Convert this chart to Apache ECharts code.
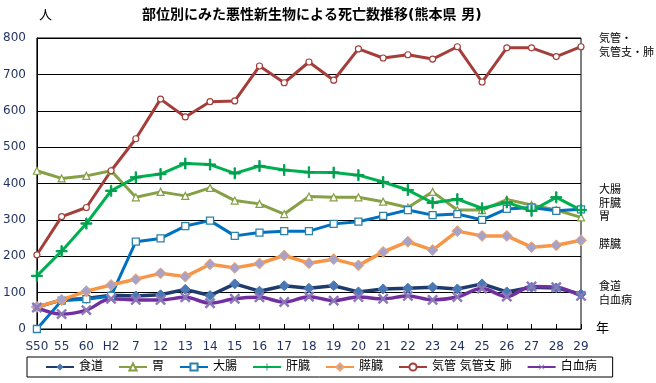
<!DOCTYPE html>
<html><head><meta charset="utf-8">
<script src="https://cdn.jsdelivr.net/npm/echarts@6/dist/echarts.min.js"></script>
<style>html,body{margin:0;padding:0;background:#fff}#c{width:656px;height:383px}</style>
</head><body><div id="c"></div>
<script>
const categories = ['S50','55','60','H2','7','12','13','14','15','16','17','18','19','20','21','22','23','24','25','26','27','28','29'];
const yTicks = [0,100,200,300,400,500,600,700,800];
const esophagus = [60,80,84,93,91,94,109,92,124,104,119,112,119,102,110,112,115,110,124,102,115,113,96];
const stomach = [435,414,421,435,362,377,366,388,353,344,316,364,362,362,350,334,377,327,327,356,341,327,307];
const colon = [0,78,82,91,240,249,283,298,256,265,269,269,289,295,311,327,313,316,300,330,334,325,329];
const liver = [146,214,290,380,417,426,455,452,428,448,437,431,430,423,404,382,347,357,332,348,325,362,327];
const pancreas = [61,80,104,121,137,153,144,178,168,180,202,181,192,175,212,240,217,269,256,256,225,230,244];
const lung = [204,309,334,435,523,632,583,625,627,723,677,734,684,770,745,754,742,776,679,773,773,749,776];
const leukemia = [59,41,52,83,80,80,87,71,83,87,74,89,78,88,83,91,80,88,111,89,117,115,91];
const seriesNames = ['食道','胃','大腸','肝臓','膵臓','気管 気管支 肺','白血病'];

const FONT = "'DejaVu Sans','Noto Sans CJK JP',sans-serif";
const plusPath = 'path://M4.4,0H5.6V4.4H10V5.6H5.6V10H4.4V5.6H0V4.4H4.4Z';

const chart = echarts.init(document.getElementById('c'));
const mk = (name, data, o) => Object.assign({
  name, type: 'line', data, lineStyle: {width: 3}, emphasis: {disabled: true}
}, o);

chart.setOption({
  animation: false,
  textStyle: {fontFamily: FONT},
  title: {
    text: '部位別にみた悪性新生物による死亡数推移(熊本県 男)',
    left: 137, top: 3,
    textStyle: {fontSize: 14, fontWeight: 'bold', color: '#000', fontFamily: FONT}
  },
  grid: {left: 36, right: 75, top: 38, bottom: 54, show: true, borderColor: '#000', borderWidth: 1},
  xAxis: {
    type: 'category', data: categories, boundaryGap: false,
    axisLine: {lineStyle: {color: '#000', width: 1}},
    axisTick: {inside: true, length: 5, lineStyle: {color: '#000'}},
    axisLabel: {color: '#1F2F5F', fontSize: 12, margin: 12, interval: 0, fontFamily: FONT},
    splitLine: {show: false}
  },
  yAxis: {
    type: 'value', min: yTicks[0], max: yTicks[yTicks.length-1], interval: 100,
    axisLine: {show: true, lineStyle: {color: '#000'}},
    axisTick: {show: false},
    axisLabel: {color: '#1F2F5F', fontSize: 12, margin: 11, fontFamily: FONT},
    splitLine: {lineStyle: {color: '#000', width: 1}}
  },
  legend: {
    data: seriesNames,
    left: 27, top: 357,
    padding: [4, 16, 4, 18],
    itemGap: 15, itemWidth: 28, itemHeight: 9,
    borderColor: '#000', borderWidth: 1,
    textStyle: {fontSize: 12, color: '#000', fontFamily: FONT}
  },
  graphic: [
    {type: 'text', left: 39, top: 9, style: {text: '人', font: '13px ' + FONT, fill: '#000'}},
    {type: 'text', left: 596, top: 322, style: {text: '年', font: '13px ' + FONT, fill: '#000'}},
    {type: 'text', left: 599, top: 34, style: {text: '気管・', font: '11px ' + FONT, fill: '#000'}},
    {type: 'text', left: 599, top: 48, style: {text: '気管支・肺', font: '11px ' + FONT, fill: '#000'}},
    {type: 'text', left: 599, top: 185, style: {text: '大腸', font: '11px ' + FONT, fill: '#000'}},
    {type: 'text', left: 599, top: 199, style: {text: '肝臓', font: '11px ' + FONT, fill: '#000'}},
    {type: 'text', left: 599, top: 212, style: {text: '胃', font: '11px ' + FONT, fill: '#000'}},
    {type: 'text', left: 599, top: 240, style: {text: '膵臓', font: '11px ' + FONT, fill: '#000'}},
    {type: 'text', left: 599, top: 282, style: {text: '食道', font: '11px ' + FONT, fill: '#000'}},
    {type: 'text', left: 599, top: 296, style: {text: '白血病', font: '11px ' + FONT, fill: '#000'}}
  ],
  series: [
    mk(seriesNames[0], esophagus, {
      symbol: 'diamond', symbolSize: 10,
      lineStyle: {width: 3.5, color: '#1F3B6B'},
      itemStyle: {color: '#4A78B5', borderColor: '#4A78B5'}
    }),
    mk(seriesNames[1], stomach, {
      symbol: 'triangle', symbolSize: 7,
      lineStyle: {width: 3, color: '#86A046'},
      itemStyle: {color: '#fff', borderColor: '#86A046', borderWidth: 1.2}
    }),
    mk(seriesNames[2], colon, {
      symbol: 'rect', symbolSize: 7,
      lineStyle: {width: 3, color: '#0070C0'},
      itemStyle: {color: '#fff', borderColor: '#2C82A8', borderWidth: 1.3}
    }),
    mk(seriesNames[3], liver, {
      symbol: plusPath, symbolSize: 11,
      lineStyle: {width: 3, color: '#00B050'},
      itemStyle: {color: '#00A050', borderColor: '#00A050'}
    }),
    mk(seriesNames[4], pancreas, {
      symbol: 'diamond', symbolSize: 11,
      lineStyle: {width: 3.5, color: '#F79646'},
      itemStyle: {color: '#A9A2C8', borderColor: '#F5A466', borderWidth: 1}
    }),
    mk(seriesNames[5], lung, {
      symbol: 'circle', symbolSize: 6,
      lineStyle: {width: 3, color: '#A43E3A'},
      itemStyle: {color: '#fff', borderColor: '#A43E3A', borderWidth: 1.2}
    }),
    mk(seriesNames[6], leukemia, {
      symbol: plusPath, symbolRotate: 45, symbolSize: 12, smooth: 0.35,
      lineStyle: {width: 3.5, color: '#7030A0'},
      itemStyle: {color: '#8C78B8', borderColor: '#8C78B8'}
    })
  ]
});
</script></body></html>
